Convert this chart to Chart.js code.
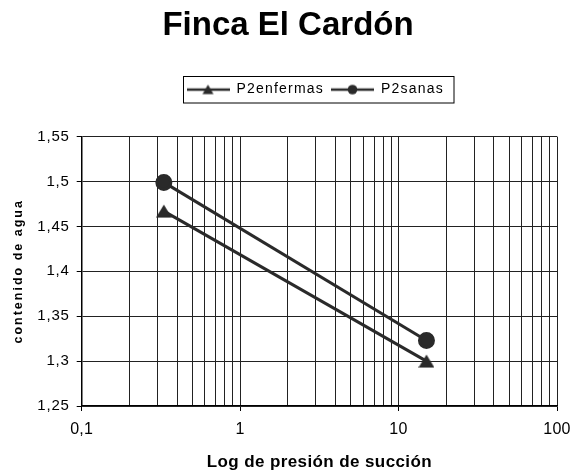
<!DOCTYPE html>
<html>
<head>
<meta charset="utf-8">
<script src="https://cdn.jsdelivr.net/npm/chart.js@4/dist/chart.umd.min.js"></script>
<style>
  html, body { margin: 0; padding: 0; background: #fff; }
  #wrap { width: 571px; height: 473px; }
</style>
</head>
<body>
<div id="wrap"><canvas id="c" width="571" height="473"></canvas></div>
<script>
// Suction pressure (x, log scale) and water content for each plot
const presion = [0.33, 15];
const enfermas = [1.467, 1.300];
const sanas = [1.499, 1.323];
const seriesNames = ['P2enfermas', 'P2sanas'];
const yTicks = [1.25, 1.3, 1.35, 1.4, 1.45, 1.5, 1.55];
const xMajor = [0.1, 1, 10, 100];

const FONT = '"Liberation Sans", Arial, sans-serif';
const LINE = '#2a2a2a';
const GRID = '#222';

function comma(v) {
  return String(Math.round(v * 100) / 100).replace('.', ',');
}

// triangle marker drawn as a small bitmap so it sits centred on its point
function triangleMarker(w, h) {
  const cv = document.createElement('canvas');
  cv.width = w; cv.height = h;
  const g = cv.getContext('2d');
  g.fillStyle = LINE;
  g.beginPath();
  g.moveTo(w / 2, 0.5); g.lineTo(w, h - 0.5); g.lineTo(0, h - 0.5); g.closePath();
  g.fill();
  return cv;
}

// legend swatch: a short line with the series marker on it
function swatch(kind) {
  const cv = document.createElement('canvas');
  cv.width = 43; cv.height = 14;
  const g = cv.getContext('2d');
  g.strokeStyle = LINE; g.lineWidth = 2.5;
  g.beginPath(); g.moveTo(0, 7); g.lineTo(43, 7); g.stroke();
  g.fillStyle = LINE;
  g.beginPath();
  if (kind === 'triangle') {
    g.moveTo(21.5, 2); g.lineTo(27, 11.5); g.lineTo(16, 11.5); g.closePath();
  } else {
    g.arc(21.5, 7, 4.8, 0, Math.PI * 2);
  }
  g.fill();
  return cv;
}

const logTicks = [];
for (let e = -1; e < 2; e++) {
  for (let s = 1; s < 10; s++) logTicks.push(+(s * Math.pow(10, e)).toPrecision(3));
}
logTicks.push(100);

// run a box method with a given canvas letter spacing
function withSpacing(obj, method, px) {
  const orig = obj[method];
  obj[method] = function (...args) {
    const c = this.ctx;
    const prev = c.letterSpacing;
    c.letterSpacing = px;
    const r = orig.apply(this, args);
    c.letterSpacing = prev;
    return r;
  };
}

function spacedScale(tickPx, titlePx, fit) {
  return {
    beforeUpdate(axis) { axis._ls = axis.ctx.letterSpacing; axis.ctx.letterSpacing = tickPx; },
    afterFit: fit,
    afterUpdate(axis) {
      axis.ctx.letterSpacing = axis._ls;
      if (!axis._spaced) {
        axis._spaced = true;
        withSpacing(axis, 'drawTitle', titlePx);
        withSpacing(axis, 'draw', tickPx);
      }
    }
  };
}

const LEGEND_GAP = 30;
const LEGEND_SPACING = '1.2px';

const layoutTweaks = {
  id: 'layoutTweaks',
  afterInit(chart) {
    const lg = chart.legend;
    withSpacing(lg, 'draw', LEGEND_SPACING);
    const upd = lg.update;
    lg.update = function (...args) {
      const c = this.ctx;
      const prev = c.letterSpacing;
      c.letterSpacing = LEGEND_SPACING;
      upd.apply(this, args);
      c.letterSpacing = prev;
      if (this.isHorizontal()) this.height += LEGEND_GAP;
    };
  },
  afterLayout(chart) {
    const t = chart.titleBlock;
    const dt = 288 - (t.left + t.right) / 2;
    t.left += dt; t.right += dt;
    const lg = chart.legend;
    const pad = lg.options.labels.padding;
    const rowStart = ((lg.left + pad) + (lg.right - lg.lineWidths[0])) / 2;
    const dl = 186.5 - rowStart;
    lg.left += dl; lg.right += dl;
  },
  afterDraw(chart) {
    const lg = chart.legend;
    if (!lg || !lg.legendHitBoxes.length) return;
    let l = Infinity, r = -Infinity, t = Infinity, b = -Infinity;
    lg.legendHitBoxes.forEach(h => {
      l = Math.min(l, h.left); r = Math.max(r, h.left + h.width);
      t = Math.min(t, h.top); b = Math.max(b, h.top + h.height);
    });
    const ctx = chart.ctx;
    ctx.save();
    ctx.strokeStyle = '#000'; ctx.lineWidth = 1;
    const x0 = Math.round(l - 4) + 0.5, y0 = Math.round(t - 6.5) + 0.5;
    ctx.strokeRect(x0, y0, Math.round(r + 10) - x0, Math.round(b + 6.5) - y0);
    ctx.restore();
  }
};

new Chart(document.getElementById('c'), {
  type: 'line',
  data: {
    datasets: [
      {
        label: seriesNames[0],
        data: presion.map((x, i) => ({ x, y: enfermas[i] })),
        borderColor: LINE, backgroundColor: LINE,
        borderWidth: 3, pointStyle: triangleMarker(16, 14), pointRadius: 8, pointHoverRadius: 8
      },
      {
        label: seriesNames[1],
        data: presion.map((x, i) => ({ x, y: sanas[i] })),
        borderColor: LINE, backgroundColor: LINE,
        borderWidth: 3, pointStyle: 'circle', pointRadius: 7, pointHoverRadius: 7
      }
    ]
  },
  options: {
    responsive: false,
    animation: false,
    layout: { padding: { left: 0, right: 14, bottom: 0, top: 0 } },
    plugins: {
      title: {
        display: true,
        text: 'Finca El Cardón',
        color: '#000',
        font: { family: FONT, size: 33, weight: 'bold' },
        padding: { top: 6, bottom: 30 }
      },
      legend: {
        position: 'top',
        labels: {
          usePointStyle: true,
          pointStyleWidth: 43,
          color: '#000',
          font: { family: FONT, size: 14 },
          padding: 7,
          boxHeight: 14,
          generateLabels(chart) {
            return chart.data.datasets.map((d, i) => ({
              text: d.label,
              pointStyle: swatch(i === 0 ? 'triangle' : 'circle'),
              fillStyle: LINE, strokeStyle: LINE, lineWidth: 0,
              datasetIndex: i, hidden: false
            }));
          }
        }
      },
      tooltip: { enabled: false }
    },
    scales: {
      x: Object.assign({
        type: 'logarithmic',
        min: 0.1, max: 100,
        afterBuildTicks(axis) { axis.ticks = logTicks.map(v => ({ value: v })); },
        ticks: {
          autoSkip: false, maxRotation: 0, color: '#000',
          font: { family: FONT, size: 16 },
          padding: 9,
          callback(v) { return xMajor.includes(v) ? comma(v) : ''; }
        },
        grid: {
          color: GRID, lineWidth: 1, drawTicks: true, tickLength: 5,
          tickColor(ctx) { return ctx.tick && xMajor.includes(ctx.tick.value) ? '#000' : 'rgba(0,0,0,0)'; }
        },
        border: { color: '#000', width: 1.5 },
        title: {
          display: true, text: 'Log de presión de succión', color: '#000',
          font: { family: FONT, size: 17, weight: 'bold' }, padding: { top: 0, bottom: 0 }
        }
      }, spacedScale('0.3px', '0.4px', (axis) => {
        axis.height = 67;
        axis.paddingLeft = 0;
        axis.paddingRight = 0;
      })),
      y: Object.assign({
        min: 1.25, max: 1.55,
        afterBuildTicks(axis) { axis.ticks = yTicks.map(v => ({ value: v })); },
        ticks: {
          color: '#000', font: { family: FONT, size: 15 }, padding: 7,
          callback(v) { return comma(v); }
        },
        grid: { color: GRID, lineWidth: 1, tickLength: 5, tickColor: '#000' },
        border: { color: '#000', width: 1.5 },
        title: {
          display: true, text: 'contenido de agua', color: '#000',
          font: { family: FONT, size: 12.5, weight: 'bold' }, padding: { top: 11, bottom: 0 }
        }
      }, spacedScale('0.8px', '2px', (axis) => { axis.width = 81.7; }))
    }
  },
  plugins: [layoutTweaks]
});
</script>
</body>
</html>
